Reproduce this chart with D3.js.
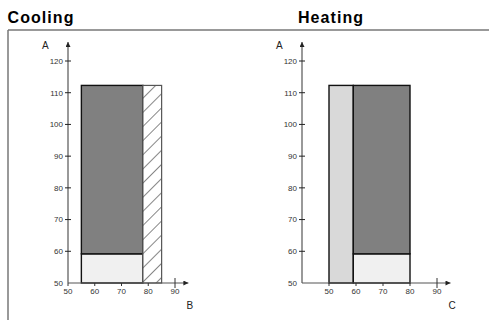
<!DOCTYPE html>
<html>
<head>
<meta charset="utf-8">
<script src="https://cdn.jsdelivr.net/npm/d3@7"></script>
<style>
  body { margin: 0; background: #fff; }
  svg { display: block; font-family: "Liberation Sans", Arial, sans-serif; }
</style>
</head>
<body>
<div id="graph"></div>
<script>
var width = 489, height = 320;

// data
var yTicks = [50, 60, 70, 80, 90, 100, 110, 120];
var coolXTicks = [50, 60, 70, 80, 90];
var heatXTicks = [50, 60, 70, 80, 90];

// zones: [x0, x1, y0, y1, kind]
var coolZones = [
  [55, 78, 50, 59.2, "light"],
  [55, 78, 59.2, 112.3, "dark"],
  [78, 85, 50, 112.3, "hatch"]
];
var heatZones = [
  [50, 59, 50, 112.3, "mid"],
  [59, 80, 50, 59.2, "light"],
  [59, 80, 59.2, 112.3, "dark"]
];

var fills = { light: "#f0f0f0", dark: "#808080", mid: "#d9d9d9", hatch: "url(#hatch)" };

var svg = d3.select("#graph").append("svg")
    .attr("width", width)
    .attr("height", height);

var defs = svg.append("defs");
var hw = 10;
var pat = defs.append("pattern")
    .attr("id", "hatch")
    .attr("patternUnits", "userSpaceOnUse")
    .attr("width", hw)
    .attr("height", hw)
    .attr("patternTransform", "rotate(45)");
pat.append("rect").attr("width", hw).attr("height", hw).attr("fill", "#fff");
pat.append("line")
    .attr("x1", 0).attr("y1", 0).attr("x2", 0).attr("y2", hw)
    .attr("stroke", "#222").attr("stroke-width", 1.1);

var marker = defs.append("marker")
    .attr("id", "arrow")
    .attr("viewBox", "0 0 10 10")
    .attr("refX", 10).attr("refY", 5)
    .attr("markerWidth", 8).attr("markerHeight", 5)
    .attr("markerUnits", "userSpaceOnUse")
    .attr("orient", "auto");
marker.append("path").attr("d", "M0,0L10,5L0,10z").attr("fill", "#222");

// frame
svg.append("line").attr("x1", 8).attr("x2", width).attr("y1", 30).attr("y2", 30)
    .attr("stroke", "#777").attr("stroke-width", 1.5);
svg.append("line").attr("x1", 8).attr("x2", 8).attr("y1", 30).attr("y2", height)
    .attr("stroke", "#777").attr("stroke-width", 1.5);

svg.append("text").attr("x", 7.5).attr("y", 23)
    .attr("font-size", 16).attr("font-weight", "bold")
    .attr("textLength", 66).attr("lengthAdjust", "spacing").text("Cooling");
svg.append("text").attr("x", 298).attr("y", 23)
    .attr("font-size", 16).attr("font-weight", "bold")
    .attr("textLength", 65).attr("lengthAdjust", "spacing").text("Heating");

var y = d3.scaleLinear().domain([50, 120]).range([283, 61]);

function panel(opts) {
  var x = d3.scaleLinear().domain(opts.xDomain).range(opts.xRange);
  var g = svg.append("g");
  var x0 = x.range()[0];

  // zones
  g.selectAll("rect.zone")
    .data(opts.zones)
    .join("rect")
      .attr("class", "zone")
      .attr("x", d => x(d[0]))
      .attr("width", d => x(d[1]) - x(d[0]))
      .attr("y", d => y(d[3]))
      .attr("height", d => y(d[2]) - y(d[3]))
      .attr("fill", d => fills[d[4]])
      .attr("stroke", d => d[4] == "hatch" ? "#555" : "#111")
      .attr("stroke-width", d => d[4] == "hatch" ? 1.2 : 1.4);

  // y axis
  g.append("line")
    .attr("x1", x0).attr("x2", x0)
    .attr("y1", y(50)).attr("y2", y(126))
    .attr("stroke", "#555").attr("stroke-width", 1.2)
    .attr("marker-end", "url(#arrow)");
  var yt = g.selectAll("g.yt").data(yTicks).join("g").attr("class", "yt")
    .attr("transform", d => `translate(${x0},${y(d)})`);
  yt.filter(d => d > 50).append("line").attr("x1", -3).attr("x2", 3)
    .attr("stroke", "#222").attr("stroke-width", 1);
  yt.append("text").attr("x", -5).attr("dy", "0.35em")
    .attr("text-anchor", "end").attr("font-size", 8).attr("fill", "#333")
    .text(d => d);
  g.append("text").attr("x", x0 - 26).attr("y", 49)
    .attr("font-size", 10).attr("fill", "#222").text("A");

  // x axis
  g.append("line")
    .attr("x1", x0).attr("x2", x(95))
    .attr("y1", y(50)).attr("y2", y(50))
    .attr("stroke", "#555").attr("stroke-width", 1.2)
    .attr("marker-end", "url(#arrow)");
  var xt = g.selectAll("g.xt").data(opts.xTicks).join("g").attr("class", "xt")
    .attr("transform", d => `translate(${x(d)},${y(50)})`);
  xt.append("line")
    .attr("y1", d => d == 90 ? -5 : 0)
    .attr("y2", d => d == 90 ? 5 : 3)
    .attr("stroke", "#333").attr("stroke-width", 1);
  xt.append("text").attr("y", 11).attr("text-anchor", "middle")
    .attr("font-size", 8).attr("fill", "#333")
    .text(d => d);
  g.append("text").attr("x", x(94.3)).attr("y", 309)
    .attr("font-size", 10).attr("fill", "#222").text(opts.label);
}

panel({ xDomain: [50, 90], xRange: [68, 175], xTicks: coolXTicks, zones: coolZones, label: "B" });
panel({ xDomain: [40, 90], xRange: [302, 437], xTicks: heatXTicks, zones: heatZones, label: "C" });
</script>
</body>
</html>
